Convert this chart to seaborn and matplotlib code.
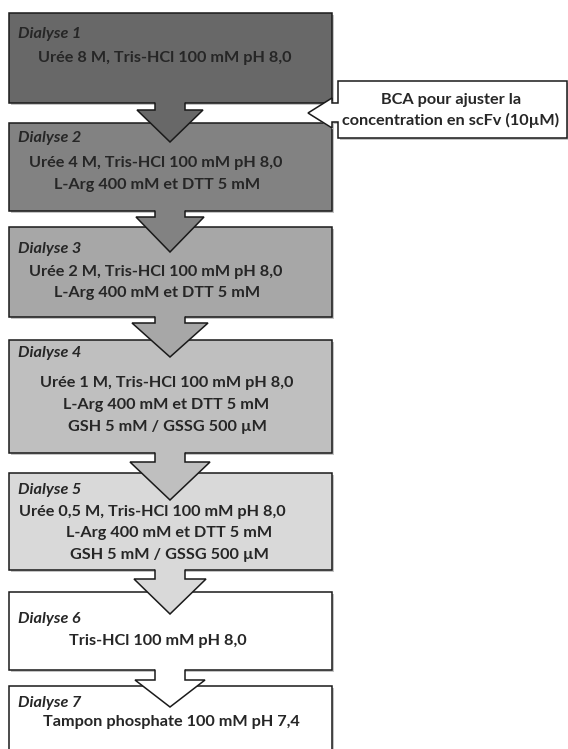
import matplotlib
matplotlib.use("Agg")
import matplotlib.pyplot as plt
from matplotlib.patches import Polygon, Rectangle
import seaborn as sns

# --- content -------------------------------------------------------------
step_titles = ["Dialyse 1", "Dialyse 2", "Dialyse 3", "Dialyse 4",
               "Dialyse 5", "Dialyse 6", "Dialyse 7"]
step_lines = [
    ["Urée 8 M, Tris-HCl 100 mM pH 8,0"],
    ["Urée 4 M, Tris-HCl 100 mM pH 8,0", "L-Arg 400 mM et DTT 5 mM"],
    ["Urée 2 M, Tris-HCl 100 mM pH 8,0", "L-Arg 400 mM et DTT 5 mM"],
    ["Urée 1 M, Tris-HCl 100 mM pH 8,0", "L-Arg 400 mM et DTT 5 mM",
     "GSH 5 mM / GSSG 500 µM"],
    ["Urée 0,5 M, Tris-HCl 100 mM pH 8,0", "L-Arg 400 mM et DTT 5 mM",
     "GSH 5 mM / GSSG 500 µM"],
    ["Tris-HCl 100 mM pH 8,0"],
    ["Tampon phosphate 100 mM pH 7,4"],
]
callout_lines = ["BCA pour ajuster la", "concentration en scFv (10µM)"]

# --- layout (pixels, y downwards) ---------------------------------------
box_left, box_right = 9, 332
box_tops = [13, 123, 227, 340, 473, 592, 686]
box_bottoms = [103, 211, 317, 453, 570, 670, 765]
title_y = [34, 138, 249, 353, 490, 619, 703]
line_y = [[58], [163, 185], [272, 293], [383, 405, 427],
          [512, 533, 555], [641], [722]]
line_x = [[165], [156, 157], [156, 157], [167, 166, 167],
          [152, 169, 169], [158], [171]]
box_colors = ["#686868", "#828282", "#a7a7a7", "#bfbfbf", "#d9d9d9",
              "#ffffff", "#ffffff"]
arrow_cx = 170
stem_hw = 15
arrow_head_top = [110, 217, 323, 462, 579, 680]
arrow_tip = [142, 252, 357, 500, 614, 707]
arrow_head_hw = [33, 34, 38, 40, 36, 35]

sns.set_theme(style="white")
plt.rcParams["font.family"] = ["Lato", "DejaVu Sans"]

fig = plt.figure(figsize=(5.68, 7.49), dpi=100)
ax = fig.add_axes([0, 0, 1, 1])
ax.set_xlim(0, 568)
ax.set_ylim(749, 0)
ax.axis("off")

ec = "#1a1a1a"
lw = 1.1

# size the font so the longest line is as wide as in the original (~268 px)
probe = ax.text(0, 0, step_lines[4][0], fontsize=10, fontweight="bold")
fig.canvas.draw()
w = probe.get_window_extent(fig.canvas.get_renderer()).width
probe.remove()
fs = 10 * 268 / w


def draw_box(i):
    t, b = box_tops[i], box_bottoms[i]
    ax.add_patch(Rectangle((box_left + 2, t + 2), box_right - box_left, b - t,
                           facecolor="#c4c4c4", edgecolor="none", zorder=1 + 3 * i))
    ax.add_patch(Rectangle((box_left, t), box_right - box_left, b - t,
                           facecolor=box_colors[i], edgecolor=ec, lw=lw,
                           zorder=2 + 3 * i))
    ax.text(box_left + 9, title_y[i], step_titles[i], fontsize=fs,
            fontweight="bold", fontstyle="italic", ha="left", va="center",
            zorder=2.5 + 3 * i)
    for txt, x, y in zip(step_lines[i], line_x[i], line_y[i]):
        ax.text(x, y, txt, fontsize=fs, fontweight="bold", ha="center",
                va="center", zorder=2.5 + 3 * i)


def draw_arrow(i):
    b = box_bottoms[i]
    ht, tip, hw = arrow_head_top[i], arrow_tip[i], arrow_head_hw[i]
    pts = [(arrow_cx - stem_hw, b), (arrow_cx - stem_hw, ht),
           (arrow_cx - hw, ht), (arrow_cx, tip), (arrow_cx + hw, ht),
           (arrow_cx + stem_hw, ht), (arrow_cx + stem_hw, b)]
    z = 3 + 3 * (i + 1)
    fill = [(pts[0][0], b - 1.5)] + pts[1:-1] + [(pts[-1][0], b - 1.5)]
    ax.add_patch(Polygon(fill, closed=True, facecolor=box_colors[i],
                         edgecolor="none", zorder=z))
    xs, ys = zip(*pts)
    ax.plot(xs, ys, color=ec, lw=lw, zorder=z + 0.1, solid_joinstyle="miter")


for i in range(len(step_titles)):
    draw_box(i)
    if i > 0:
        draw_arrow(i - 1)

# callout on the right
call = [(338, 81), (338, 103), (332, 103), (332, 98), (308, 113),
        (332, 128), (332, 122), (338, 122), (338, 138), (567, 138), (567, 81)]
shadow = [(x + 2, y + 2) for x, y in call]
ax.add_patch(Polygon(shadow, closed=True, facecolor="#c4c4c4",
                     edgecolor="none", zorder=40))
ax.add_patch(Polygon(call, closed=True, facecolor="white", edgecolor=ec,
                     lw=lw, zorder=41, joinstyle="miter"))
for txt, y in zip(callout_lines, [100, 120]):
    ax.text(451, y, txt, fontsize=fs, fontweight="bold", ha="center",
            va="center", zorder=42)

fig.savefig("out.png", dpi=100)
